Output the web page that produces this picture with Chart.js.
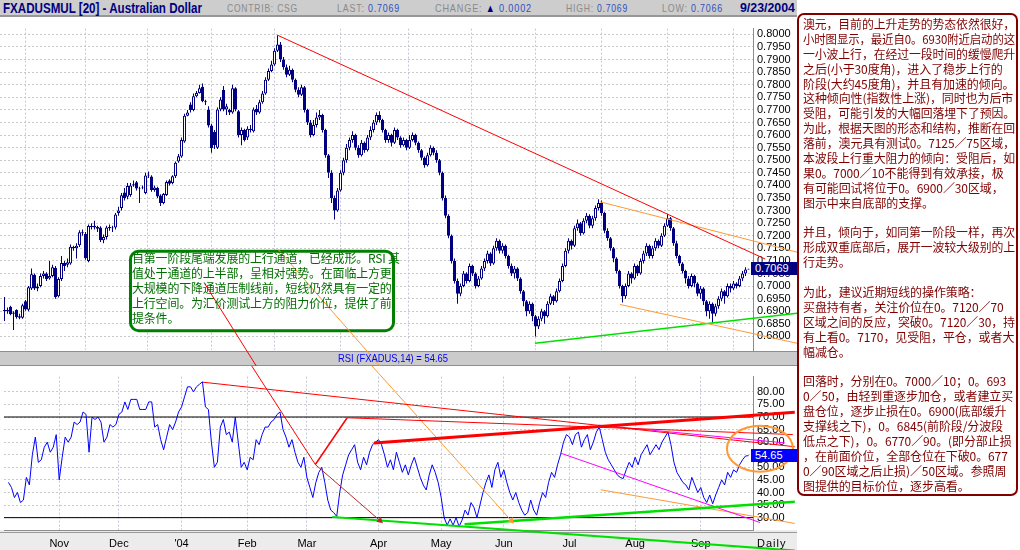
<!DOCTYPE html>
<html>
<head>
<meta charset="utf-8">
<script src="https://cdn.jsdelivr.net/npm/chart.js@4.4.1/dist/chart.umd.min.js"></script>
<style>
  body { margin:0; width:1020px; height:550px; position:relative; overflow:hidden; background:#fff; font-family:"Liberation Sans", Arial, sans-serif; }
  .abs { position:absolute; white-space:nowrap; }
  .fit { display:inline-block; transform-origin:0 0; }
  #bar { left:0; top:0; width:797px; height:15px; background:#cdcdcd; border-bottom:2px solid #979797; }
  .lbl { color:#8a8a8a; font-size:11px; letter-spacing:1px; }
  .val { color:#2f4fbf; }
  #priceCanvas { position:absolute; left:0; top:18px; }
  #rsiCanvas { position:absolute; left:0; top:366px; }
  #notes { left:797px; top:13px; width:221px; height:483px; box-sizing:border-box; border:2px solid #800000; border-radius:7px; padding:2px 0 0 4px; color:#800000; font:12px/14.9px "Noto Sans CJK SC", sans-serif; }
  #notes div { white-space:pre; height:14.9px; letter-spacing:-0.1px; }
  #notes span { display:inline-block; transform-origin:0 0; }
  #callout { left:132px; top:250px; color:#006f00; font:12px/15px "Noto Sans CJK SC", sans-serif; letter-spacing:-0.2px; }
  .tag { position:absolute; left:751px; width:46px; height:13px; color:#fff; font-size:11px; line-height:13px; padding-left:4px; box-sizing:border-box; }
</style>
</head>
<body>
<div id="bar" class="abs"></div>
<span class="abs fit" data-w="199" style="left:3px;top:0px;font:bold 14px 'Liberation Sans';color:#000080">FXADUSMUL [20] - Australian Dollar</span>
<span class="abs fit lbl" data-w="71" style="left:227px;top:2px">CONTRIB: CSG</span>
<span class="abs fit lbl" data-w="63" style="left:337px;top:2px">LAST: <span class="val">0.7069</span></span>
<span class="abs fit lbl" data-w="97" style="left:435px;top:2px">CHANGE: <span style="color:#000080">▲</span> <span class="val">0.0002</span></span>
<span class="abs fit lbl" data-w="62" style="left:566px;top:2px">HIGH: <span class="val">0.7069</span></span>
<span class="abs fit lbl" data-w="61" style="left:662px;top:2px">LOW: <span class="val">0.7066</span></span>
<span class="abs fit" data-w="55" style="left:740px;top:0px;font:bold 13px 'Liberation Sans';color:#000080">9/23/2004</span>

<canvas id="priceCanvas" width="800" height="348"></canvas>
<canvas id="rsiCanvas" width="800" height="184"></canvas>

<span class="abs fit" data-w="110" style="left:338px;top:352px;font-size:11px;color:#0000ff">RSI (FXADUS,14) = 54.65</span>
<span class="abs" style="left:757px;top:537px;font-size:11px;letter-spacing:1px">Daily</span>
<div id="priceTag" class="tag" style="background:#000080">0.7069</div>
<div id="rsiTag" class="tag" style="background:#0000ff">54.65</div>

<div id="callout" class="abs">自第一阶段尾端发展的上行通道，已经成形。RSI 其<br>值处于通道的上半部，呈相对强势。在面临上方更<br>大规模的下降通道压制线前，短线仍然具有一定的<br>上行空间。为汇价测试上方的阻力价位，提供了前<br>提条件。</div>

<div id="notes" class="abs"></div>

<script>
// bar index 0 = first October 2003 session, one bar per trading day
const PIP = 10000;
const monthStarts = [17, 37, 58, 80, 100, 124, 145, 166, 188, 210, 232];
const monthLabels = ['Nov', 'Dec', "'04", 'Feb', 'Mar', 'Apr', 'May', 'Jun', 'Jul', 'Aug', 'Sep'];
const priceTicks = [0.6800, 0.6850, 0.6900, 0.6950, 0.7000, 0.7050, 0.7100, 0.7150, 0.7200, 0.7250,
  0.7300, 0.7350, 0.7400, 0.7450, 0.7500, 0.7550, 0.7600, 0.7650, 0.7700, 0.7750,
  0.7800, 0.7850, 0.7900, 0.7950, 0.8000];
const rsiTicks = [30, 35, 40, 45, 50, 55, 60, 65, 70, 75, 80];
const rsiLevels = [70, 30];

const opens = [6900,6905,6918,6890,6905,6874,6874,6940,6906,6990,
7045,6990,7000,7040,7050,7030,7040,7072,6960,7028,
7092,7085,7090,7156,7150,7162,7214,7207,7100,7239,
7233,7235,7233,7182,7195,7235,7230,7233,7290,7310,
7372,7355,7362,7400,7413,7388,7390,7370,7439,7435,
7382,7390,7360,7330,7362,7420,7410,7436,7495,7515,
7575,7677,7722,7700,7754,7767,7792,7734,7702,7638,
7612,7550,7702,7779,7702,7700,7690,7786,7695,7600,
7620,7590,7625,7615,7705,7690,7730,7765,7820,7855,
7880,7935,7960,7900,7870,7840,7860,7820,7780,7760,
7790,7700,7650,7600,7640,7670,7680,7620,7520,7450,
7350,7300,7380,7450,7500,7550,7580,7600,7550,7520,
7570,7540,7590,7620,7650,7680,7660,7620,7580,7600,
7570,7620,7590,7560,7580,7550,7580,7600,7570,7540,
7510,7480,7520,7550,7530,7500,7450,7350,7280,7200,
7100,7020,6970,7000,7050,7020,7080,7050,7000,7030,
7070,7100,7130,7090,7150,7180,7140,7160,7120,7080,
7050,7070,7030,6980,6940,6900,6930,6880,6840,6870,
6900,6880,6930,6960,6940,6980,7020,7080,7140,7180,
7160,7230,7250,7210,7260,7280,7240,7270,7310,7330,
7290,7220,7190,7150,7110,7060,7000,6960,7000,7050,
7030,7080,7050,7100,7130,7160,7120,7150,7180,7160,
7200,7240,7270,7230,7170,7120,7090,7060,7030,7000,
7040,7010,6970,6990,6940,6900,6930,6890,6920,6950,
6980,6960,7000,6990,7010,7000,7030,7050,7066];

const highs = [6957,6915,6922,6900,6908,6890,6930,6945,7000,7070,
7050,7010,7050,7060,7055,7100,7085,7080,7035,7120,
7100,7110,7165,7160,7170,7222,7225,7215,7245,7250,
7260,7240,7238,7205,7240,7245,7240,7290,7315,7370,
7390,7410,7410,7420,7418,7395,7400,7450,7455,7440,
7400,7395,7365,7370,7420,7425,7440,7495,7525,7590,
7685,7700,7730,7765,7775,7800,7805,7740,7715,7645,
7620,7710,7750,7795,7725,7705,7800,7790,7700,7630,
7625,7635,7640,7710,7720,7740,7775,7830,7865,7895,
7945,7997,7970,7910,7880,7875,7865,7825,7790,7800,
7795,7705,7660,7660,7690,7700,7685,7625,7525,7460,
7360,7390,7460,7510,7565,7590,7615,7605,7560,7580,
7575,7600,7635,7660,7690,7695,7665,7625,7610,7605,
7630,7625,7595,7590,7585,7600,7610,7605,7575,7545,
7515,7530,7560,7555,7540,7505,7455,7360,7285,7205,
7110,7030,7010,7060,7055,7090,7085,7055,7040,7080,
7110,7140,7135,7160,7190,7185,7170,7165,7125,7090,
7080,7075,7035,6985,6945,6940,6935,6885,6880,6910,
6905,6940,6970,6965,6990,7030,7090,7150,7190,7185,
7240,7265,7255,7270,7290,7285,7280,7320,7345,7340,
7295,7230,7195,7155,7115,7065,7005,7010,7060,7055,
7090,7085,7110,7140,7170,7165,7160,7190,7185,7210,
7250,7285,7275,7235,7180,7125,7095,7065,7040,7050,
7045,7015,7000,6995,6945,6940,6935,6930,6960,6990,
6985,7010,7010,7020,7015,7040,7060,7075,7069];

const lows = [6861,6890,6884,6826,6870,6868,6870,6902,6900,6985,
6985,6980,6995,7030,7020,7025,7035,6950,6955,7020,
7060,7075,7085,7140,7110,7155,7200,7105,7095,7225,
7225,7215,7175,7170,7185,7220,7215,7225,7280,7300,
7340,7345,7355,7395,7380,7330,7385,7365,7430,7375,
7375,7350,7318,7325,7358,7400,7405,7430,7490,7510,
7570,7675,7690,7695,7750,7765,7730,7720,7630,7530,
7545,7545,7695,7695,7680,7680,7685,7695,7590,7560,
7575,7580,7610,7610,7680,7685,7725,7760,7815,7850,
7875,7930,7890,7860,7830,7835,7810,7770,7750,7755,
7690,7640,7590,7595,7630,7660,7610,7510,7430,7330,
7265,7295,7375,7440,7490,7540,7570,7540,7510,7515,
7530,7535,7580,7610,7640,7650,7610,7570,7570,7555,
7565,7580,7550,7555,7540,7545,7575,7560,7530,7500,
7470,7475,7515,7520,7490,7440,7340,7270,7190,7090,
7010,6930,6960,6995,7010,7015,7040,6990,6995,7025,
7060,7090,7080,7085,7140,7130,7130,7110,7070,7040,
7030,7020,6970,6920,6880,6890,6860,6800,6830,6860,
6850,6875,6925,6925,6935,6975,7015,7075,7130,7145,
7155,7220,7200,7205,7250,7230,7230,7260,7300,7280,
7210,7180,7140,7095,7050,6990,6935,6950,6995,7010,
7025,7040,7045,7090,7120,7110,7110,7140,7150,7155,
7195,7235,7220,7160,7110,7080,7050,7010,6990,6995,
6995,6960,6950,6925,6880,6870,6855,6880,6910,6940,
6930,6955,6975,6985,6990,6995,7020,7040,7066];

const closes = [6905,6900,6888,6895,6876,6880,6924,6907,6995,7047,
6990,6998,7040,7050,7028,7040,7075,6957,7028,7092,
7080,7095,7156,7150,7160,7214,7210,7111,7239,7235,
7240,7228,7182,7195,7233,7230,7233,7284,7300,7361,
7350,7398,7400,7405,7388,7390,7392,7439,7442,7382,
7392,7356,7330,7366,7414,7407,7436,7490,7516,7580,
7677,7690,7700,7754,7767,7786,7734,7730,7638,7548,
7560,7702,7741,7702,7715,7690,7786,7702,7600,7620,
7580,7625,7620,7702,7690,7730,7765,7820,7855,7880,
7935,7960,7900,7870,7840,7860,7820,7780,7760,7790,
7700,7650,7600,7640,7670,7680,7620,7520,7450,7350,
7300,7380,7450,7500,7550,7580,7600,7550,7520,7570,
7540,7590,7620,7650,7680,7660,7620,7580,7600,7570,
7620,7590,7560,7580,7550,7580,7600,7570,7540,7510,
7480,7520,7550,7530,7500,7450,7350,7280,7200,7100,
7020,6970,7000,7050,7020,7080,7050,7000,7030,7070,
7100,7130,7090,7150,7180,7140,7160,7120,7080,7050,
7070,7030,6980,6940,6900,6930,6880,6840,6870,6900,
6880,6930,6960,6940,6980,7020,7080,7140,7180,7160,
7230,7250,7210,7260,7280,7240,7270,7310,7330,7290,
7220,7190,7150,7110,7060,7000,6960,7000,7050,7030,
7080,7050,7100,7130,7160,7120,7150,7180,7160,7200,
7240,7270,7230,7170,7120,7090,7060,7030,7000,7040,
7010,6970,6990,6940,6900,6930,6890,6920,6950,6980,
6960,7000,6990,7010,7000,7030,7050,7066,7069];

const rsi = [44,42,38,40,36,37,46,43,55,62,
52,53,58,60,56,58,63,45,54,62,
60,62,68,67,68,72,71,56,70,69,
70,68,60,62,67,66,67,71,72,76,
73,77,77,77,73,73,73,76,76,66,
67,61,57,62,67,65,68,72,74,78,
82,82,80,82,83,84,74,73,60,50,
52,66,69,63,64,60,70,60,50,52,
49,54,53,61,59,63,66,66,68,69,
71,72,65,62,58,61,56,52,50,54,
46,42,38,44,48,50,44,37,33,32,
30.5,40,47,51,55,57,59,52,49,54,
51,56,59,60,61,59,55,50,53,49,
56,52,48,51,47,51,54,50,46,43,
41,47,51,48,44,
38,30,27,29.5,27,30,26.5,29,33,31,36,
34,30,35,40,44,47,42,49,52,46,
49,44,40,37,40,36,33,31,32,37,33,31,
36,40,38,44,48,46,51,55,60,63,
62,59,63,64,58,61,63,57,60,64,66,
61,56,53,51,49,47,46,45.5,49,52,50,
54,51,55,57,59,55,57,59,57,60,62,
64,59,52,48,46,44,43,41,46,43,40,
42,38,36,39,35.5,39,42,45,43,
48,46,49,48,51,53,54.5,54.65];

// hand-drawn study lines: [bar index, value]
const redResistance = [[91.17, 0.7996], [253.5, 0.7108]];
const orangeUpper = [[198.5, 0.7335], [264.17, 0.7135]];
const orangeLower = [[205.17, 0.6927], [264.17, 0.6773]];
const greenSupport = [[176.83, 0.6773], [264.17, 0.6892]];
const redPointerPrice = [[66.83, 0.7008], [102.83, 0.6323]];
const orangePointerPrice = [[91.17, 0.7146], [168.5, 0.6092]];
const calloutBox = [[42, 0.7138], [129.67, 0.6823]];

const rsiRedThin = [[65.17, 83.83], [263.5, 58.18]];
const rsiRedThick = [[122.5, 59.67], [263.5, 71.93]];
const rsiRedFlat = [[113.5, 69.71], [262.83, 63.02]];
const rsiRedBracket = [[102.83, 51.12], [113.5, 69.71]];
const redPointerRsi = [[66.83, 117.29], [102.83, 51.12]];
const brownArrow = [[102.83, 51.12], [124.5, 28.81]];
const orangePointerRsi = [[91.17, 130.67], [168.5, 28.81]];
const rsiGreenUp = [[152.83, 27.36], [263.5, 36.28]];
const rsiGreenDown = [[108.5, 30.3], [263.5, 16.9]];
const rsiMagentaUpper = [[197.83, 66.77], [260.17, 59.7]];
const rsiMagentaLower = [[185.17, 55.58], [251.83, 28.07]];
const rsiOrange = [[198.5, 41.08], [263.5, 27.7]];
const rsiEllipse = [251.83, 57.43];

const notesLines = [
  '澳元，目前的上升走势的势态依然很好，',
  '小时图显示，最近自0。6930附近启动的这',
  '一小波上行，在经过一段时间的缓慢爬升',
  '之后(小于30度角)，进入了稳步上行的',
  '阶段(大约45度角)，并且有加速的倾向。',
  '这种倾向性(指数性上涨)，同时也为后市',
  '受阻，可能引发的大幅回落埋下了预因。',
  '为此，根据天图的形态和结构，推断在回',
  '落前，澳元具有测试0。7125／75区域，',
  '本波段上行重大阻力的倾向：受阻后，如',
  '果0。7000／10不能得到有效承接，极',
  '有可能回试将位于0。6900／30区域，',
  '图示中来自底部的支撑。',
  '',
  '并且，倾向于，如同第一阶段一样，再次',
  '形成双重底部后，展开一波较大级别的上',
  '行走势。',
  '',
  '为此，建议近期短线的操作策略：',
  '买盘持有者，关注价位在0。7120／70',
  '区域之间的反应，突破0。7120／30，持',
  '有上看0。7170，见受阻，平仓，或者大',
  '幅减仓。',
  '',
  '回落时，分别在0。7000／10；0。693',
  '0／50，由轻到重逐步加仓，或者建立买',
  '盘仓位，逐步止损在0。6900(底部缓升',
  '支撑线之下)，0。6845(前阶段/分波段',
  '低点之下)，0。6770／90。(即分部止损',
  '，在前面价位，全部仓位在下破0。677',
  '0／90区域之后止损)／50区域。参照周',
  '图提供的目标价位，逐步高看。'
];

const notes = document.getElementById('notes');
notesLines.forEach(function (t) {
  const d = document.createElement('div');
  const s = document.createElement('span');
  s.textContent = t;
  d.appendChild(s);
  notes.appendChild(d);
});

const NAVY = '#000080';
const pts = a => a.map(p => ({ x: p[0], y: p[1] }));
function studyLine(a, color, width, extra) {
  return Object.assign({
    type: 'line', data: pts(a), borderColor: color, borderWidth: width || 1,
    pointRadius: 0, tension: 0, clip: false, order: 1
  }, extra || {});
}
const xAxis = {
  type: 'linear', min: -1.5, max: 249.5, offset: false,
  afterBuildTicks: function (a) { a.ticks = monthStarts.map(v => ({ value: v })); },
  grid: { color: '#c6c6d6', drawTicks: false },
  border: { display: false, dash: [2, 2] }
};

// price chart
var wickData = [], bodyData = [], bodyColors = [];
closes.forEach(function (c, i) {
  wickData.push({ x: i, y: [lows[i] / PIP, highs[i] / PIP] });
  bodyData.push({ x: i, y: [opens[i] / PIP, c / PIP] });
  bodyColors.push(c >= opens[i] ? '#ffffff' : NAVY);
});

const topDecor = {
  id: 'topDecor',
  beforeDatasetsDraw: function (chart) {
    const ctx = chart.ctx, ca = chart.chartArea, s = chart.scales;
    ctx.save();
    ctx.fillStyle = '#cbcbcb';
    ctx.fillRect(0, ca.bottom + 1, 797, 15);
    ctx.fillStyle = '#8e8e8e';
    ctx.fillRect(0, ca.bottom + 1, 797, 1);
    ctx.fillRect(0, ca.bottom + 15, 797, 1);
    const x1 = s.x.getPixelForValue(calloutBox[0][0]), y1 = s.y.getPixelForValue(calloutBox[0][1]);
    const x2 = s.x.getPixelForValue(calloutBox[1][0]), y2 = s.y.getPixelForValue(calloutBox[1][1]);
    ctx.beginPath();
    ctx.roundRect(x1, y1, x2 - x1, y2 - y1, 8);
    ctx.fillStyle = '#ffffff';
    ctx.fill();
    ctx.lineWidth = 3;
    ctx.strokeStyle = '#008000';
    ctx.stroke();
    ctx.restore();
  }
};

var priceChart = new Chart(document.getElementById('priceCanvas'), {
  type: 'bar',
  data: {
    datasets: [
      studyLine(redResistance, '#ff0000'),
      studyLine(orangeUpper, '#ff9933'),
      studyLine(orangeLower, '#ff9933'),
      studyLine(greenSupport, '#00e000', 1.5),
      studyLine(redPointerPrice, '#ff0000'),
      studyLine(orangePointerPrice, '#ff9933'),
      { type: 'bar', data: bodyData, backgroundColor: bodyColors, borderColor: NAVY, borderWidth: 1,
        borderSkipped: false, barThickness: 3, grouped: false, inflateAmount: 0, order: 2 },
      { type: 'bar', data: wickData, backgroundColor: NAVY, borderWidth: 0,
        barThickness: 1, grouped: false, inflateAmount: 0, order: 3 }
    ]
  },
  options: {
    responsive: false, animation: false,
    layout: { padding: { left: 0, right: 0, top: 0, bottom: 16 } },
    plugins: { legend: { display: false }, tooltip: { enabled: false } },
    scales: {
      x: Object.assign({}, xAxis, { ticks: { display: false }, afterFit: function (a) { a.height = 0; } }),
      y: {
        position: 'right', min: 0.674615, max: 0.802308,
        afterBuildTicks: function (a) { a.ticks = priceTicks.map(v => ({ value: v })); },
        ticks: { padding: 4, autoSkip: false, color: '#000', font: { size: 11, family: 'Liberation Sans' },
          callback: v => v.toFixed(4) },
        grid: { color: '#c8c8c8', drawTicks: false },
        border: { display: true, color: '#8c8c8c', dash: [2, 2] },
        afterFit: function (a) { a.width = 47; }
      }
    }
  },
  plugins: [topDecor]
});

// RSI chart
const rsiDecor = {
  id: 'rsiDecor',
  beforeDraw: function (chart) {
    const ctx = chart.ctx, ca = chart.chartArea;
    ctx.save();
    ctx.fillStyle = '#ececec';
    ctx.fillRect(0, ca.bottom, 797, chart.height - ca.bottom);
    ctx.fillStyle = '#9a9a9a';
    ctx.fillRect(0, ca.bottom + 2, 797, 1);
    ctx.restore();
  },
  afterDatasetsDraw: function (chart) {
    const ctx = chart.ctx, s = chart.scales;
    ctx.save();
    ctx.strokeStyle = '#ff9933';
    ctx.lineWidth = 2;
    ctx.beginPath();
    ctx.ellipse(s.x.getPixelForValue(rsiEllipse[0]), s.y.getPixelForValue(rsiEllipse[1]), 33, 23, 0, 0, Math.PI * 2);
    ctx.stroke();
    ctx.restore();
  }
};

var rsiChart = new Chart(document.getElementById('rsiCanvas'), {
  type: 'line',
  data: {
    datasets: [
      studyLine(rsiRedThick, '#ff0000', 3),
      studyLine(rsiRedThin, '#ff0000'),
      studyLine(rsiRedFlat, '#ff0000'),
      studyLine(rsiRedBracket, '#ff0000', 1.5),
      studyLine(redPointerRsi, '#ff0000'),
      studyLine(brownArrow, '#b03030', 1, { pointRadius: [0, 4], pointStyle: 'triangle', pointRotation: [0, 133], pointBackgroundColor: '#b03030', pointBorderWidth: 0 }),
      studyLine(orangePointerRsi, '#ff9933', 1, { pointRadius: [0, 4], pointStyle: 'triangle', pointRotation: [0, 140], pointBackgroundColor: '#ff9933', pointBorderWidth: 0 }),
      studyLine(rsiGreenUp, '#00e000', 2.5),
      studyLine(rsiGreenDown, '#00e000', 2),
      studyLine(rsiMagentaUpper, '#ff00ff'),
      studyLine(rsiMagentaLower, '#ff00ff'),
      studyLine(rsiOrange, '#ff9933'),
      { type: 'line', data: rsi.map((v, i) => ({ x: i, y: v })), borderColor: '#0000ff', borderWidth: 1,
        pointRadius: 0, tension: 0, order: 2 },
      studyLine([[-1.5, rsiLevels[0]], [249.5, rsiLevels[0]]], '#000000', 1, { clip: 0, order: 3 }),
      studyLine([[-1.5, rsiLevels[1]], [249.5, rsiLevels[1]]], '#000000', 1, { clip: 0, order: 3 })
    ]
  },
  options: {
    responsive: false, animation: false,
    layout: { padding: 0 },
    plugins: { legend: { display: false }, tooltip: { enabled: false } },
    scales: {
      x: Object.assign({}, xAxis, {
        ticks: { padding: 7, color: '#000', maxRotation: 0, autoSkip: false, font: { size: 11, family: 'Liberation Sans' },
          callback: v => monthLabels[monthStarts.indexOf(v)] || '' },
        border: { display: true, color: '#8c8c8c', dash: [2, 2] },
        afterFit: function (a) { a.height = 20; }
      }),
      y: {
        position: 'right', min: 25.09, max: 86.06,
        afterBuildTicks: function (a) { a.ticks = rsiTicks.map(v => ({ value: v })); },
        ticks: { padding: 4, autoSkip: false, color: '#000', font: { size: 11, family: 'Liberation Sans' },
          callback: v => v.toFixed(2) },
        grid: { color: '#c8c8c8', drawTicks: false },
        border: { display: true, color: '#8c8c8c', dash: [2, 2] },
        afterFit: function (a) { a.width = 47; }
      }
    }
  },
  plugins: [rsiDecor]
});

// value tags on the right axes
document.getElementById('priceTag').style.top =
  (18 + priceChart.scales.y.getPixelForValue(closes[closes.length - 1] / PIP) - 6.5) + 'px';
document.getElementById('rsiTag').style.top =
  (366 + rsiChart.scales.y.getPixelForValue(rsi[rsi.length - 1]) - 6.5) + 'px';

function fitAll() {
  document.querySelectorAll('[data-w]').forEach(function (el) {
    el.style.transform = 'none';
    const w = el.getBoundingClientRect().width;
    if (w) el.style.transform = 'scaleX(' + (el.dataset.w / w) + ')';
  });
  document.querySelectorAll('#notes span').forEach(function (el) {
    el.style.transform = 'none';
    const w = el.getBoundingClientRect().width;
    if (w > 212) el.style.transform = 'scaleX(' + (212 / w) + ')';
  });
}
fitAll();
document.fonts.ready.then(fitAll);
</script>
</body>
</html>
